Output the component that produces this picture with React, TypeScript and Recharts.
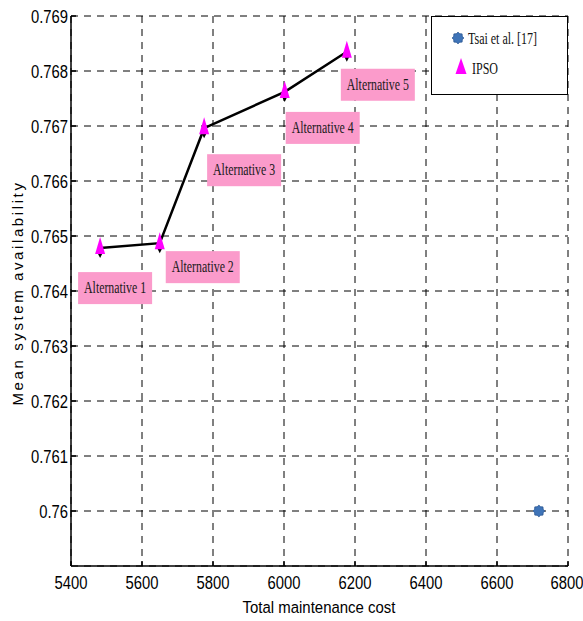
import { ScatterChart, Scatter, XAxis, YAxis, CartesianGrid, Legend } from 'recharts';

// IPSO alternatives
const altCosts = [5482, 5650, 5775, 6002, 6177];
const altAvailability = [0.76478, 0.76487, 0.76696, 0.76762, 0.76835];
const altNames = ['Alternative 1', 'Alternative 2', 'Alternative 3', 'Alternative 4', 'Alternative 5'];

// Tsai et al. [17]
const tsaiCosts = [6718];
const tsaiAvailability = [0.76];

const xTicks = [5400, 5600, 5800, 6000, 6200, 6400, 6600, 6800];
const yTicks = [0.76, 0.761, 0.762, 0.763, 0.764, 0.765, 0.766, 0.767, 0.768, 0.769];

// pixel offsets of the pink annotation boxes from their points
const boxOffsets = [[15, 40], [43, 24], [40, 42], [38, 36], [31, 33]];

const ipsoData = altCosts.map((c, i) => ({ cost: c, avail: altAvailability[i], name: altNames[i] }));
const tsaiData = tsaiCosts.map((c, i) => ({ cost: c, avail: tsaiAvailability[i] }));

const sans = 'Liberation Sans, Arial, sans-serif';
const serif = 'Liberation Serif, Times New Roman, serif';

// the figure is squeezed horizontally, so text is drawn condensed
const Narrow = ({ x, y, sx, children, ...rest }: any) => (
  <text transform={`translate(${x} ${y}) scale(${sx} 1)`} x={0} y={0} {...rest}>
    {children}
  </text>
);

const YTick = ({ x, y, payload }: any) => (
  <Narrow x={x} y={y + 7} sx={0.78} textAnchor="end" fontFamily={sans} fontSize={19} fill="#000">
    {String(payload.value)}
  </Narrow>
);

const XTick = ({ x, y, payload }: any) => (
  <Narrow x={x} y={y + 10} sx={0.78} textAnchor="middle" fontFamily={sans} fontSize={19} fill="#000">
    {String(payload.value)}
  </Narrow>
);

const Triangle = ({ cx, cy }: any) => (
  <g>
    <polygon points={`${cx - 2.5},${cy + 5} ${cx + 2.5},${cy + 5} ${cx},${cy + 10}`} fill="#000" />
    <polygon points={`${cx},${cy - 11} ${cx + 5},${cy + 6} ${cx - 5},${cy + 6}`} fill="#ff00ff" />
  </g>
);

const starPoints = (cx: number, cy: number, r1: number, r2: number, n: number) => {
  const pts: string[] = [];
  for (let i = 0; i < n * 2; i++) {
    const r = i % 2 === 0 ? r1 : r2;
    const a = (Math.PI * i) / n - Math.PI / 2;
    pts.push(`${cx + r * Math.cos(a)},${cy + r * Math.sin(a)}`);
  }
  return pts.join(' ');
};

const Hexagram = ({ cx, cy }: any) => (
  <polygon points={starPoints(cx, cy, 5.8, 4.6, 8)} fill="#3f74b8" stroke="#2a5590" strokeWidth={0.8} />
);

const LabelBox = ({ cx, cy, index, payload }: any) => {
  const [dx, dy] = boxOffsets[index] || [30, 36];
  const x = cx + dx;
  const y = cy + dy;
  return (
    <g>
      <rect x={x - 37} y={y - 16} width={74} height={32} fill="#fb9bcb" />
      <Narrow x={x} y={y + 5} sx={0.74} textAnchor="middle" fontFamily={serif} fontSize={16} fill="#1a1a1a">
        {payload.name}
      </Narrow>
    </g>
  );
};

const LegendBox = () => (
  <svg width={135} height={77} style={{ display: 'block' }}>
    <Hexagram cx={26} cy={21} />
    <Narrow x={36} y={27} sx={0.75} fontFamily={serif} fontSize={16} fill="#111">
      Tsai et al. [17]
    </Narrow>
    <polygon points="29,41 34.5,57 23.5,57" fill="#ff00ff" />
    <Narrow x={40} y={57} sx={0.75} fontFamily={serif} fontSize={16} fill="#111">
      IPSO
    </Narrow>
  </svg>
);

export default function App() {
  return (
    <div style={{ position: 'absolute', left: 0, top: 0, width: 583, height: 621, background: '#fff' }}>
      <ScatterChart width={583} height={621} margin={{ top: 16, right: 15, bottom: 0, left: 0 }}>
        <CartesianGrid stroke="#000" strokeDasharray="7 6" strokeWidth={1} />
        <XAxis
          type="number"
          dataKey="cost"
          domain={[5400, 6800]}
          ticks={xTicks}
          height={55}
          tick={<XTick />}
          tickSize={-5}
          tickMargin={18}
          stroke="#000"
          strokeWidth={1.5}
          label={{
            content: () => (
              <Narrow x={319} y={613} sx={0.88} textAnchor="middle" fontFamily={sans} fontSize={17} fill="#000">
                Total maintenance cost
              </Narrow>
            ),
          }}
        />
        <XAxis
          xAxisId="top"
          orientation="top"
          type="number"
          dataKey="cost"
          domain={[5400, 6800]}
          ticks={xTicks}
          height={0}
          tickSize={-5}
          tickFormatter={() => ''}
          stroke="#000"
          strokeWidth={1.5}
        />
        <YAxis
          type="number"
          dataKey="avail"
          domain={[0.759, 0.769]}
          ticks={yTicks}
          width={71}
          tick={<YTick />}
          tickSize={-5}
          tickMargin={8}
          stroke="#000"
          strokeWidth={1.5}
          label={{
            content: () => (
              <text
                x={17}
                y={293}
                transform="rotate(-90 17 293)"
                textAnchor="middle"
                dominantBaseline="central"
                fontFamily={sans}
                fontSize={15}
                letterSpacing={2.6}
                fill="#000"
              >
                Mean system availability
              </text>
            ),
          }}
        />
        <YAxis
          yAxisId="right"
          orientation="right"
          type="number"
          dataKey="avail"
          domain={[0.759, 0.769]}
          ticks={yTicks}
          width={0}
          tickSize={-5}
          tickFormatter={() => ''}
          stroke="#000"
          strokeWidth={1.5}
        />
        <Legend
          layout="vertical"
          align="center"
          verticalAlign="middle"
          content={() => <LegendBox />}
          wrapperStyle={{
            top: 16,
            left: 431,
            width: 137,
            height: 79,
            border: '1px solid #000',
            background: '#fff',
            boxSizing: 'border-box',
          }}
        />
        <Scatter name="Tsai et al. [17]" data={tsaiData} shape={Hexagram} isAnimationActive={false} />
        <Scatter
          name="IPSO"
          data={ipsoData}
          shape={Triangle}
          line={{ stroke: '#000', strokeWidth: 2.5 }}
          lineType="joint"
          isAnimationActive={false}
        />
        <Scatter name="labels" data={ipsoData} shape={LabelBox} legendType="none" isAnimationActive={false} />
      </ScatterChart>
    </div>
  );
}
